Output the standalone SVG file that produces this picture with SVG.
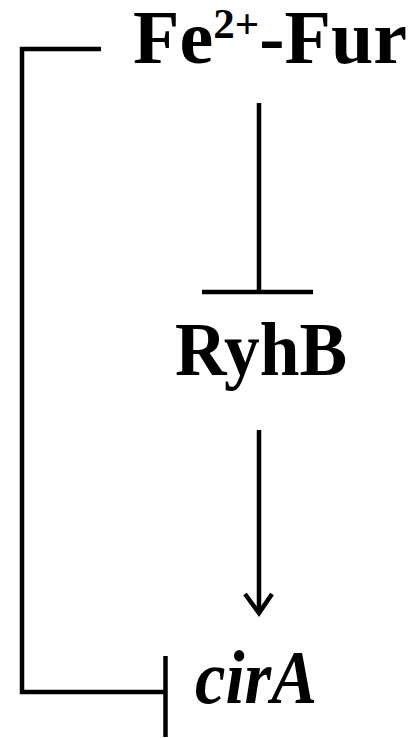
<svg xmlns="http://www.w3.org/2000/svg" width="411" height="738" viewBox="0 0 411 738">
<style>
.t{font-family:"Liberation Serif","Times New Roman",serif;font-weight:bold;font-size:76px;fill:#000}
.l{stroke:#000;stroke-width:4.5;fill:none}
</style>
<rect width="411" height="738" fill="#fff"/>
<g id="fefur"><text class="t" x="133" y="63">Fe<tspan font-size="43" dy="-25">2+</tspan><tspan dy="25">-Fur</tspan></text></g>
<g id="ryhb"><text class="t" x="175" y="375" textLength="172" lengthAdjust="spacingAndGlyphs">RyhB</text></g>
<g id="cira"><text class="t" x="195" y="703" font-style="italic" textLength="122" lengthAdjust="spacingAndGlyphs">cirA</text></g>
<g id="connectors">
<path class="l" d="M101,49 H22 V692 H165"/>
<path class="l" d="M165.5,656 V737"/>
<path class="l" d="M259,103 V292"/>
<path class="l" d="M202,292 H313"/>
<path class="l" d="M259,430 V612"/>
<path class="l" d="M245,594 L259,613 L272,594" stroke-width="4.5"/>
</g>
</svg>
